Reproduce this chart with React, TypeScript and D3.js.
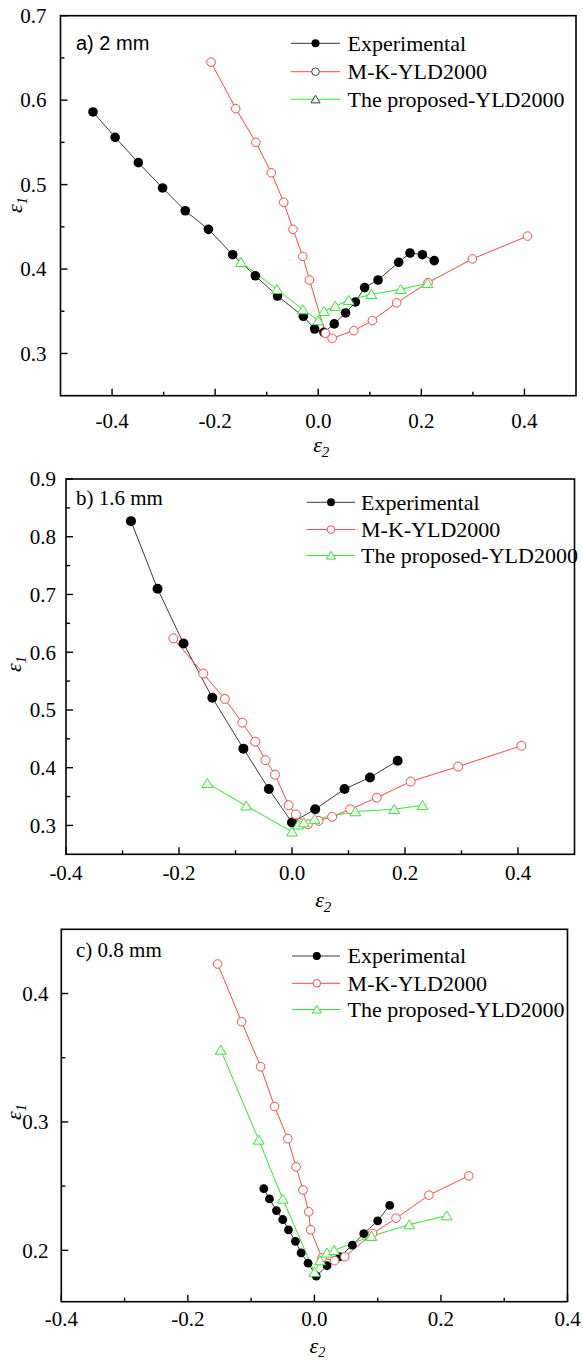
import React from "react";
import * as d3 from "d3";

// ---------- DATA ----------
// Panel a) 2 mm
const expA: [number, number][] = [
  [-0.437, 0.586], [-0.394, 0.556], [-0.349, 0.526], [-0.302, 0.496], [-0.258, 0.469],
  [-0.213, 0.447], [-0.166, 0.417], [-0.122, 0.392], [-0.079, 0.368], [-0.029, 0.344],
  [-0.007, 0.329], [0.011, 0.325], [0.031, 0.335], [0.053, 0.348], [0.072, 0.361],
  [0.090, 0.378], [0.116, 0.387], [0.156, 0.408], [0.178, 0.419], [0.202, 0.417], [0.225, 0.410],
];
const mkA: [number, number][] = [
  [-0.208, 0.645], [-0.160, 0.590], [-0.121, 0.550], [-0.091, 0.514], [-0.067, 0.479],
  [-0.049, 0.447], [-0.030, 0.415], [-0.017, 0.387], [0.014, 0.324], [0.027, 0.318],
  [0.069, 0.327], [0.105, 0.339], [0.152, 0.360], [0.213, 0.384], [0.299, 0.412], [0.406, 0.439],
];
const propA: [number, number][] = [
  [-0.150, 0.408], [-0.080, 0.376], [-0.030, 0.352], [0.000, 0.339], [0.011, 0.350],
  [0.033, 0.356], [0.059, 0.363], [0.103, 0.370], [0.160, 0.376], [0.212, 0.383],
];

// Panel b) 1.6 mm
const expB: [number, number][] = [
  [-0.285, 0.827], [-0.238, 0.710], [-0.192, 0.615], [-0.141, 0.521], [-0.086, 0.433],
  [-0.041, 0.363], [0.000, 0.305], [0.041, 0.328], [0.093, 0.363], [0.138, 0.383], [0.187, 0.412],
];
const mkB: [number, number][] = [
  [-0.210, 0.624], [-0.157, 0.563], [-0.119, 0.519], [-0.088, 0.478], [-0.065, 0.445],
  [-0.047, 0.413], [-0.030, 0.388], [-0.006, 0.335], [0.007, 0.319], [0.028, 0.302],
  [0.047, 0.308], [0.071, 0.315], [0.103, 0.328], [0.150, 0.348], [0.210, 0.376],
  [0.294, 0.402], [0.406, 0.438],
];
const propB: [number, number][] = [
  [-0.150, 0.373], [-0.081, 0.334], [0.000, 0.289], [0.011, 0.301], [0.021, 0.305],
  [0.040, 0.311], [0.112, 0.324], [0.181, 0.328], [0.231, 0.335],
];

// Panel c) 0.8 mm
const expC: [number, number][] = [
  [-0.080, 0.248], [-0.071, 0.240], [-0.060, 0.231], [-0.050, 0.224], [-0.041, 0.216],
  [-0.030, 0.207], [-0.021, 0.198], [-0.010, 0.190], [0.003, 0.180], [0.020, 0.188],
  [0.040, 0.195], [0.060, 0.204], [0.078, 0.213], [0.100, 0.223], [0.119, 0.235],
];
const mkC: [number, number][] = [
  [-0.153, 0.423], [-0.115, 0.378], [-0.085, 0.343], [-0.063, 0.312], [-0.042, 0.287],
  [-0.029, 0.265], [-0.018, 0.247], [-0.009, 0.230], [-0.006, 0.216], [0.012, 0.194],
  [0.032, 0.192], [0.048, 0.195], [0.092, 0.213], [0.129, 0.225], [0.181, 0.243], [0.244, 0.258],
];
const propC: [number, number][] = [
  [-0.148, 0.356], [-0.088, 0.286], [-0.050, 0.240], [0.000, 0.183], [0.009, 0.192],
  [0.020, 0.198], [0.031, 0.200], [0.090, 0.211], [0.150, 0.220], [0.209, 0.227],
];

// Ticks
const xTicksA = [-0.4, -0.2, 0.0, 0.2, 0.4];
const xMinorA = [-0.3, -0.1, 0.1, 0.3];
const yTicksA = [0.3, 0.4, 0.5, 0.6, 0.7];
const yMinorA = [0.35, 0.45, 0.55, 0.65];

const xTicksB = [-0.4, -0.2, 0.0, 0.2, 0.4];
const xMinorB = [-0.3, -0.1, 0.1, 0.3];
const yTicksB = [0.3, 0.4, 0.5, 0.6, 0.7, 0.8, 0.9];
const yMinorB = [0.35, 0.45, 0.55, 0.65, 0.75, 0.85];

const xTicksC = [-0.4, -0.2, 0.0, 0.2, 0.4];
const xMinorC = [-0.3, -0.1, 0.1, 0.3];
const yTicksC = [0.2, 0.3, 0.4];
const yMinorC = [0.25, 0.35];

const seriesNames = ["Experimental", "M-K-YLD2000", "The proposed-YLD2000"];
const panelTitles = ["a) 2 mm", "b)  1.6 mm", "c) 0.8 mm"];

// ---------- STYLE ----------
const RED = "#ff4848";
const GREEN = "#2fe82f";
const GRAY = "#3a3a3a";
const SERIF = "'Liberation Serif', 'Times New Roman', serif";
const SANS = "'Liberation Sans', Arial, sans-serif";

type Panel = {
  xDomain: [number, number];
  xRange: [number, number];
  yDomain: [number, number];
  yRange: [number, number];
  xTicks: number[];
  xMinor: number[];
  yTicks: number[];
  yMinor: number[];
  exp: [number, number][];
  mk: [number, number][];
  prop: [number, number][];
  title: string;
  titleFont: string;
  titleSize: number;
  titleY: number;
  yLabelEnd: number;
  xLabelY: number;
  xTitleY: number;
  yTitleX: number;
  yTitleY: number;
  legX: [number, number, number, number];
  legY: number[];
  legendMarkerGray: boolean;
  rExp: number;
  rMk: number;
};

const panels: Panel[] = [
  {
    xDomain: [-0.5, 0.5], xRange: [60.5, 576], yDomain: [0.25, 0.7], yRange: [395.7, 15.7],
    xTicks: xTicksA, xMinor: xMinorA, yTicks: yTicksA, yMinor: yMinorA,
    exp: expA, mk: mkA, prop: propA,
    title: panelTitles[0], titleFont: SANS, titleSize: 20, titleY: 50,
    yLabelEnd: 46.5, xLabelY: 428, xTitleY: 452, yTitleX: 22, yTitleY: 205,
    legX: [291, 315.5, 340, 347.6], legY: [43.3, 71.7, 99.3], legendMarkerGray: true,
    rExp: 4.8, rMk: 4.3,
  },
  {
    xDomain: [-0.4, 0.5], xRange: [66, 574.5], yDomain: [0.25, 0.9], yRange: [854.3, 479],
    xTicks: xTicksB, xMinor: xMinorB, yTicks: yTicksB, yMinor: yMinorB,
    exp: expB, mk: mkB, prop: propB,
    title: panelTitles[1], titleFont: SERIF, titleSize: 21, titleY: 505,
    yLabelEnd: 56, xLabelY: 880, xTitleY: 907, yTitleX: 21, yTitleY: 664,
    legX: [306.7, 331, 355, 361], legY: [502.3, 529.5, 555.5], legendMarkerGray: false,
    rExp: 5.0, rMk: 4.5,
  },
  {
    xDomain: [-0.4, 0.4], xRange: [61.3, 567.5], yDomain: [0.16, 0.45], yRange: [1301.7, 929.3],
    xTicks: xTicksC, xMinor: xMinorC, yTicks: yTicksC, yMinor: yMinorC,
    exp: expC, mk: mkC, prop: propC,
    title: panelTitles[2], titleFont: SERIF, titleSize: 21, titleY: 957,
    yLabelEnd: 48.5, xLabelY: 1326, xTitleY: 1353, yTitleX: 21, yTitleY: 1112,
    legX: [292, 316.8, 340, 347.6], legY: [956, 983.3, 1009.5], legendMarkerGray: false,
    rExp: 4.4, rMk: 4.3,
  },
];

const triPath = (cx: number, cy: number, s = 1) =>
  `M${cx},${cy - 4.8 * s}L${cx + 5.4 * s},${cy + 4.2 * s}L${cx - 5.4 * s},${cy + 4.2 * s}Z`;

const fmt = (t: number) => d3.format(".1f")(t).replace("\u2212", "-");

function PanelView({ p, last }: { p: Panel; last: boolean }) {
  const x = d3.scaleLinear().domain(p.xDomain).range(p.xRange);
  const y = d3.scaleLinear().domain(p.yDomain).range(p.yRange);
  const line = d3
    .line<[number, number]>()
    .x((d) => x(d[0]))
    .y((d) => y(d[1]));
  const [x0, x1] = p.xRange;
  const [yb, yt] = p.yRange;
  const majorLen = 7;
  const minorLen = 4;
  const lm = p.legendMarkerGray;

  return (
    <g>
      <path d={line(p.exp) || ""} fill="none" stroke={GRAY} strokeWidth={1} />
      <path d={line(p.mk) || ""} fill="none" stroke={RED} strokeWidth={1} />
      <path d={line(p.prop) || ""} fill="none" stroke={GREEN} strokeWidth={1} />
      {p.exp.map((d, i) => (
        <circle key={"e" + i} cx={x(d[0])} cy={y(d[1])} r={p.rExp} fill="#000" />
      ))}
      {p.mk.map((d, i) => (
        <circle key={"m" + i} cx={x(d[0])} cy={y(d[1])} r={p.rMk} fill="#fff" stroke={RED} strokeWidth={1} />
      ))}
      {p.prop.map((d, i) => (
        <path key={"p" + i} d={triPath(x(d[0]), y(d[1]))} fill="#fff" stroke={GREEN} strokeWidth={1} />
      ))}

      <rect x={x0} y={yt} width={x1 - x0} height={yb - yt} fill="none" stroke="#000" strokeWidth={1.6} />

      {p.xTicks.map((t) => (
        <g key={"xt" + t}>
          <line x1={x(t)} x2={x(t)} y1={yb} y2={yb - majorLen} stroke="#000" strokeWidth={1.4} />
          <text x={x(t)} y={p.xLabelY} textAnchor="middle" fontFamily={SERIF} fontSize={21} fill="#000">
            {fmt(t)}
          </text>
        </g>
      ))}
      {p.xMinor.map((t) => (
        <line key={"xm" + t} x1={x(t)} x2={x(t)} y1={yb} y2={yb - minorLen} stroke="#000" strokeWidth={1.4} />
      ))}
      {p.yTicks.map((t) => (
        <g key={"yt" + t}>
          <line x1={x0} x2={x0 + majorLen} y1={y(t)} y2={y(t)} stroke="#000" strokeWidth={1.4} />
          <text x={p.yLabelEnd} y={y(t)} dy="0.35em" textAnchor="end" fontFamily={SERIF} fontSize={21} fill="#000">
            {fmt(t)}
          </text>
        </g>
      ))}
      {p.yMinor.map((t) => (
        <line key={"ym" + t} x1={x0} x2={x0 + minorLen} y1={y(t)} y2={y(t)} stroke="#000" strokeWidth={1.4} />
      ))}

      <text x={(x0 + x1) / 2 + 3} y={p.xTitleY} textAnchor="middle" fontFamily={SERIF} fontStyle="italic" fontSize={22} fill="#000">
        ε<tspan fontSize={last ? 14 : 15} dy={last ? 4 : 5}>2</tspan>
      </text>
      <text
        transform={`translate(${p.yTitleX},${p.yTitleY}) rotate(-90)`}
        textAnchor="middle"
        fontFamily={SERIF}
        fontStyle="italic"
        fontSize={22}
        fill="#000"
      >
        ε<tspan fontSize={15} dy={5}>1</tspan>
      </text>

      <text x={76} y={p.titleY} fontFamily={p.titleFont} fontSize={p.titleSize} fill="#000">
        {p.title}
      </text>

      <line x1={p.legX[0]} x2={p.legX[2]} y1={p.legY[0]} y2={p.legY[0]} stroke={GRAY} strokeWidth={1} />
      <circle cx={p.legX[1]} cy={p.legY[0]} r={4} fill="#000" />
      <line x1={p.legX[0]} x2={p.legX[2]} y1={p.legY[1]} y2={p.legY[1]} stroke={RED} strokeWidth={1} />
      <circle cx={p.legX[1]} cy={p.legY[1]} r={3.8} fill="#fff" stroke={lm ? GRAY : RED} strokeWidth={1} />
      <line x1={p.legX[0]} x2={p.legX[2]} y1={p.legY[2]} y2={p.legY[2]} stroke={GREEN} strokeWidth={1} />
      <path d={triPath(p.legX[1], p.legY[2], 0.85)} fill="#fff" stroke={lm ? GRAY : GREEN} strokeWidth={1} />
      {seriesNames.map((n, i) => (
        <text key={n} x={p.legX[3]} y={p.legY[i]} dy="0.34em" fontFamily={SERIF} fontSize={22} fill="#000">
          {n}
        </text>
      ))}
    </g>
  );
}

export default function App() {
  return (
    <svg
      width={583}
      height={1361}
      viewBox="0 0 583 1361"
      style={{ position: "absolute", left: 0, top: 0, display: "block", background: "#fff" }}
    >
      <rect x={0} y={0} width={583} height={1361} fill="#fff" />
      {panels.map((p, i) => (
        <PanelView key={i} p={p} last={i === panels.length - 1} />
      ))}
    </svg>
  );
}
